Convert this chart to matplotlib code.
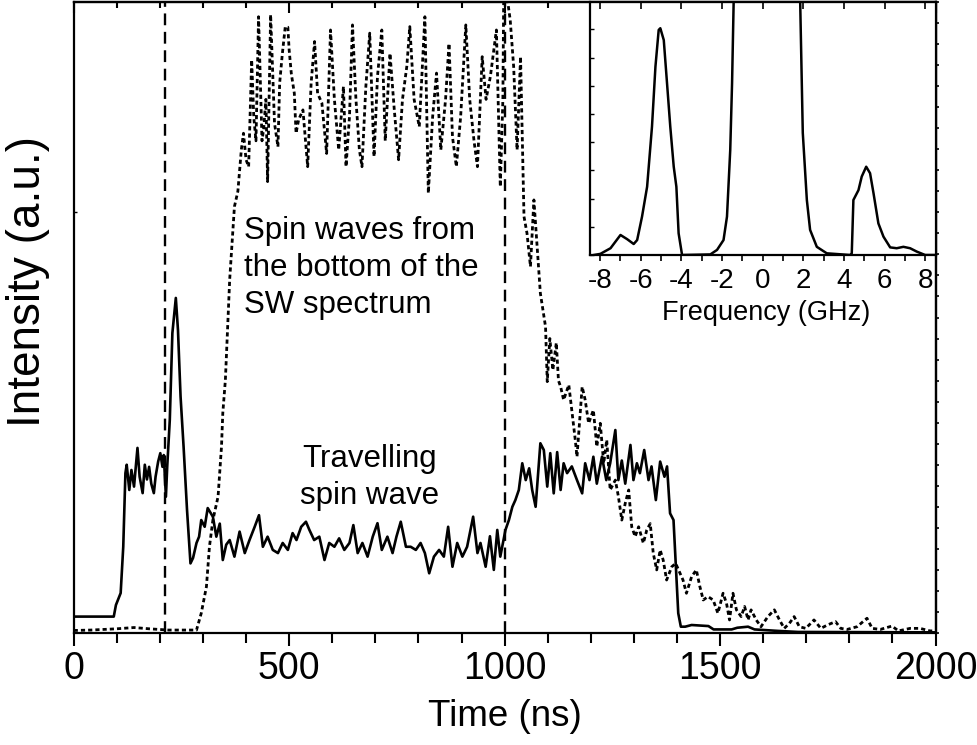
import numpy as np
import matplotlib
matplotlib.use("Agg")
import matplotlib.pyplot as plt
from matplotlib.ticker import MultipleLocator, NullFormatter

plt.rcParams['font.family'] = ['Liberation Sans', 'DejaVu Sans']
plt.rcParams['axes.unicode_minus'] = False

# travelling spin wave (solid)
t_travel = [0, 93, 98, 109, 115, 120, 123, 129, 134, 140, 148, 153, 160, 165, 170, 175, 180, 186, 190, 196,
            201, 206, 209, 214, 217, 223, 229, 237, 242, 248, 255, 263, 271, 277, 285, 291, 296, 304, 311, 323,
            331, 339, 346, 354, 362, 373, 385, 397, 408, 420, 430, 439, 450, 462, 474, 485, 497, 508, 517, 528,
            539, 547, 558, 570, 582, 593, 605, 616, 628, 640, 649, 659, 670, 682, 694, 705, 715, 728, 740, 749,
            759, 771, 782, 794, 805, 815, 825, 836, 848, 859, 869, 879, 890, 902, 913, 927, 937, 944, 956, 966,
            975, 983, 990, 1002, 1010, 1018, 1025, 1033, 1041, 1049, 1057, 1064, 1072, 1083, 1091, 1099, 1106,
            1114, 1122, 1130, 1137, 1145, 1156, 1168, 1180, 1187, 1197, 1206, 1214, 1226, 1236, 1245, 1257, 1264,
            1272, 1280, 1292, 1299, 1307, 1314, 1324, 1334, 1341, 1351, 1361, 1371, 1377, 1384, 1392, 1397, 1403,
            1409, 1419, 1434, 1473, 1485, 1527, 1540, 1565, 1580, 1634, 1681, 2000]
i_travel = [0.78, 0.78, 1.33, 1.9, 4.1, 7.6, 8.0, 6.8, 7.75, 6.96, 8.8, 7.43, 6.65, 8.0, 7.3, 7.9, 7.1, 6.65, 7.43, 8.15,
            8.55, 7.9, 8.46, 6.48, 7.9, 10.13, 14.26, 15.93, 14.4, 11.24, 8.86, 5.85, 3.31, 3.57, 4.28, 4.58, 5.37, 5.05, 5.94, 5.53,
            4.58, 5.2, 3.47, 4.2, 4.42, 3.63, 4.82, 3.8, 4.42, 5.05, 5.6, 4.1, 4.58, 3.95, 3.8, 4.28, 3.95, 4.75, 4.42, 5.05,
            5.29, 4.9, 4.42, 4.58, 3.47, 4.28, 4.1, 4.5, 3.95, 4.28, 5.13, 3.8, 4.28, 3.63, 4.58, 5.22, 3.95, 4.58, 3.8, 4.58,
            5.29, 4.1, 4.1, 3.95, 4.28, 3.8, 2.84, 3.63, 3.95, 3.63, 5.05, 3.15, 4.28, 3.63, 4.1, 5.53, 3.8, 4.28, 3.15, 4.6,
            3.0, 4.9, 3.63, 4.9, 5.37, 6.0, 6.32, 6.8, 8.07, 7.27, 7.83, 6.8, 6.0, 9.02, 8.7, 6.96, 8.55,
            6.64, 8.6, 6.8, 8.07, 7.6, 7.92, 7.27, 6.64, 8.07, 7.27, 8.38, 7.1, 8.38, 7.27, 8.07, 9.65, 7.27,
            8.2, 7.1, 8.94, 7.27, 8.07, 7.6, 8.7, 7.27, 7.92, 6.32, 8.15, 7.43, 7.92, 5.69, 5.37, 3.31, 0.94,
            0.3, 0.3, 0.38, 0.33, 0.17, 0.17, 0.25, 0.3, 0.17, 0.1, 0.05, 0.03]

# spin waves from the bottom of the spectrum (dotted)
t_bottom = [0, 40, 100, 140, 175, 220, 285, 296, 308, 315, 323, 335, 343, 346, 352, 362, 373, 381, 389, 394,
            400, 406, 413, 418, 423, 429, 437, 441, 446, 450, 457, 466, 474, 478, 484, 491, 497, 500, 505, 512,
            516, 522, 532, 543, 551, 559, 566, 576, 587, 596, 605, 615, 626, 632, 640, 647, 655, 663, 669, 678,
            687, 697, 705, 715, 723, 734, 744, 754, 763, 773, 780, 790, 802, 815, 823, 833, 842, 852, 863, 871,
            879, 888, 898, 910, 919, 929, 937, 948, 957, 967, 981, 990, 996, 998, 1006, 1013, 1021, 1029, 1037,
            1045, 1052, 1060, 1068, 1076, 1083, 1095, 1099, 1105, 1112, 1120, 1125, 1130, 1137, 1149, 1164, 1168,
            1180, 1187, 1195, 1206, 1214, 1222, 1230, 1237, 1245, 1257, 1264, 1272, 1280, 1288, 1295, 1303, 1311,
            1322, 1330, 1338, 1345, 1353, 1361, 1368, 1376, 1388, 1397, 1407, 1414, 1422, 1434, 1445, 1453, 1461,
            1472, 1484, 1495, 1507, 1515, 1522, 1530, 1538, 1549, 1557, 1565, 1572, 1584, 1595, 1611, 1626, 1638,
            1649, 1661, 1672, 1684, 1699, 1718, 1734, 1749, 1768, 1780, 1795, 1818, 1841, 1853, 1872, 1899, 1914,
            1941, 1964, 1987, 2000]
i_bottom = [0.12, 0.14, 0.2, 0.26, 0.2, 0.14, 0.14, 0.94, 2.2, 4.1, 5.37, 6.48, 8.86, 10.45, 12.03, 16.8, 20.27, 21.0, 22.97, 23.76,
            22.5, 22.17, 27.25, 24.5, 23.4, 29.3, 23.4, 24.0, 25.37, 21.46, 29.4, 24.24, 23.12, 26.15, 27.5, 28.83, 28.8, 27.72, 26.6, 25.66,
            23.76, 24.4, 24.87, 22.17, 26.14, 28.12, 25.66, 25.19, 22.8, 28.67, 25.37, 22.97, 25.98, 22.17, 24.55, 28.91, 25.37, 22.97, 22.17, 25.98,
            28.52, 22.65, 26.46, 28.67, 23.4, 27.56, 24.87, 22.5, 25.37, 26.93, 28.83, 25.37, 24.07, 29.3, 20.91, 24.55, 26.62, 22.97, 25.37, 28.03,
            23.6, 22.17, 24.55, 28.91, 25.37, 23.4, 22.17, 27.4, 25.37, 26.46, 28.67, 21.22, 25.37, 30.5, 30.2, 29.15, 26.93, 22.97, 27.4,
            19.8, 19.0, 17.42, 20.59, 18.23, 16.15, 14.56, 11.95, 14.0, 12.5, 13.8, 12.0, 11.71, 11.08, 11.8, 9.18, 8.38,
            11.71, 11.08, 9.97, 10.6, 8.86, 9.97, 8.07, 9.18, 6.8, 7.27, 6.5, 5.37, 6.17, 6.8, 5.05, 4.58, 5.05,
            4.27, 4.9, 5.2, 3.79, 3.0, 3.95, 3.47, 2.52, 3.15, 3.31, 2.84, 2.52, 1.89, 2.68, 3.0, 2.22, 1.57,
            1.73, 1.57, 0.94, 1.89, 1.41, 0.62, 1.89, 1.1, 0.78, 1.26, 0.62, 1.1, 0.62, 0.3, 0.78, 1.1, 0.62,
            0.22, 0.46, 0.78, 0.3, 0.22, 0.62, 0.22, 0.38, 0.54, 0.22, 0.17, 0.3, 0.7, 0.22, 0.17, 0.33, 0.1,
            0.22, 0.22, 0.1, 0.1]

marker_times = [212, 1000]

# inset spectrum
f_ghz = [-8.31, -7.99, -7.49, -7.0, -6.67, -6.35, -6.18, -5.94, -5.69, -5.45, -5.28, -5.12, -5.04, -4.87, -4.71,
         -4.55, -4.38, -4.25, -4.14, -3.97, -2.58, -2.25, -1.93, -1.76, -1.6, -1.51, -1.43, -1.2, 0.2, 1.6,
         1.84, 1.97, 2.17, 2.33, 2.66, 3.15, 4.3, 4.38, 4.46, 4.71, 4.87, 5.09, 5.28, 5.45, 5.69, 5.94,
         6.27, 6.59, 6.92, 7.25, 7.58, 7.99, 8.5]
s_ghz = [0, 0.04, 0.24, 0.71, 0.56, 0.39, 0.53, 1.36, 2.42, 4.55, 6.68, 7.98, 8.04, 7.62, 6.09,
         4.55, 3.13, 2.42, 0.77, 0, 0.02, 0.18, 0.53, 1.36, 3.72, 6.09, 9.04, 13, 30, 13,
         9.04, 4.33, 1.95, 0.89, 0.29, 0.06, 0, 0.06, 1.95, 2.3, 2.78, 3.13, 2.9, 2.19, 1.12, 0.65,
         0.27, 0.24, 0.29, 0.24, 0.12, 0, 0]

W, H = 978, 745
fig = plt.figure(figsize=(W / 100, H / 100), dpi=100)
ax = fig.add_axes([73.7 / W, 1 - 633 / H, (935.5 - 73.7) / W, 631 / H])

ax.plot(t_travel, i_travel, c='k', lw=1.9, solid_joinstyle='round')
ax.plot(t_bottom, i_bottom, c='k', lw=2.0, ls=(0, (1.5, 1.1)))
for tm in marker_times:
    ax.axvline(tm, c='k', lw=1.7, ls=(0, (5, 2.8)))

ax.set_xlim(0, 2000)
ax.set_ylim(0, 30)
for s in ax.spines.values():
    s.set_linewidth(1.6)

ax.xaxis.set_major_locator(MultipleLocator(500))
ax.xaxis.set_minor_locator(MultipleLocator(100))
ax.tick_params(axis='x', which='both', direction='out', width=1.5, labelsize=27, pad=4)
ax.tick_params(axis='x', which='major', length=9)
ax.tick_params(axis='x', which='minor', length=7)
ax.set_yticks([20])
ax.yaxis.set_major_formatter(NullFormatter())
ax.tick_params(axis='y', direction='in', length=2, width=1)

top = ax.secondary_xaxis('top')
top.xaxis.set_major_locator(MultipleLocator(500))
top.xaxis.set_minor_locator(MultipleLocator(100))
top.tick_params(which='both', direction='in', width=1.5, labeltop=False)
top.tick_params(which='major', length=8)
top.tick_params(which='minor', length=4)
top.spines['top'].set_linewidth(1.6)

right = ax.secondary_yaxis('right')
right.yaxis.set_major_locator(MultipleLocator(1))
right.tick_params(direction='out', length=2.5, width=1.2, labelright=False)
right.spines['right'].set_linewidth(1.6)

ax.set_xlabel('Time (ns)', fontsize=26.5, va='center')
ax.xaxis.set_label_coords(0.5, (633 - 717) / 631)
ax.set_ylabel('Intensity (a.u.)', fontsize=33, va='center')
ax.yaxis.set_label_coords((28 - 73.7) / 862, (633 - 281.5) / 631)

ax.text(396, 17.36, 'Spin waves from\nthe bottom of the\nSW spectrum', fontsize=22.5,
        ha='left', va='center', linespacing=1.3)
ax.text(686, 7.39, 'Travelling\nspin wave', fontsize=22.5, ha='center', va='center',
        multialignment='center', linespacing=1.3)

# inset
axin = fig.add_axes([590 / W, 1 - 255 / H, (935.5 - 590) / W, 253 / H])
axin.plot(f_ghz, s_ghz, c='k', lw=1.8, solid_joinstyle='round')
axin.set_xlim(-8.5, 8.5)
axin.set_ylim(0, 8.97)
for s in axin.spines.values():
    s.set_linewidth(1.6)
axin.xaxis.set_major_locator(MultipleLocator(2))
axin.xaxis.set_minor_locator(MultipleLocator(1))
axin.tick_params(axis='x', which='both', direction='out', length=4, width=1.2, labelsize=20, pad=5)
axin.yaxis.set_major_locator(MultipleLocator(1))
axin.yaxis.set_major_formatter(NullFormatter())
axin.tick_params(axis='y', direction='in', length=3, width=1)
itop = axin.secondary_xaxis('top')
itop.xaxis.set_major_locator(MultipleLocator(2))
itop.tick_params(direction='in', length=5, width=1.2, labeltop=False)
axin.set_xlabel('Frequency (GHz)', fontsize=19.5, va='center')
axin.xaxis.set_label_coords((766 - 590) / 345.5, (255 - 313) / 253)

fig.savefig('out.png', dpi=100)
